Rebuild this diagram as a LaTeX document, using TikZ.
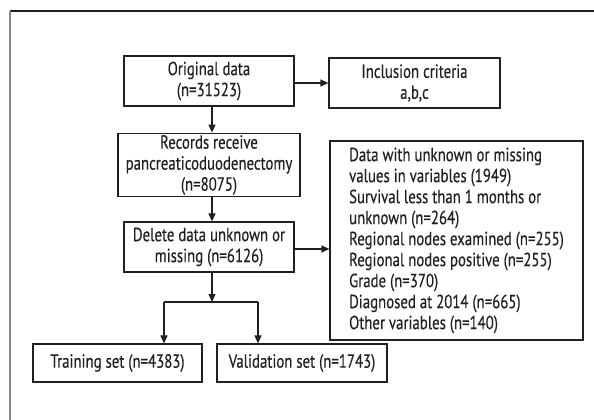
\documentclass[tikz,border=0pt]{standalone}
\usepackage{fontspec}
\setmainfont{PT Sans}[FakeStretch=0.78, FakeBold=0.35]
\usetikzlibrary{arrows.meta}
\definecolor{ink}{HTML}{231F20}
\definecolor{framegray}{HTML}{8A8A8A}
\tikzset{
  box/.style={draw=ink, line width=1.2pt, rectangle, align=center, inner sep=2pt,
    font=\fontsize{19}{21}\selectfont, text=ink},
  arr/.style={draw=ink, line width=1.2pt, -{Triangle[length=8pt,width=7pt]}},
  link/.style={draw=ink, line width=1.2pt},
}
\begin{document}
\begin{tikzpicture}[x=1pt,y=-1pt]
  \useasboundingbox (0,0) rectangle (594,420);
  % page frame: top rule and left rule
  \draw[ink, line width=1.3pt] (10,11) -- (594,11);
  \draw[framegray, line width=1.3pt] (10,11) -- (10,420);

  % boxes
  \node[box, minimum width=170pt, minimum height=50pt] (orig) at (209,81)
    {Original data\\(n=31523)};
  \node[box, minimum width=171pt, minimum height=50pt] (incl) at (414.5,83)
    {Inclusion criteria\\a,b,c};
  \node[box, minimum width=182pt, minimum height=62pt] (rec) at (209,165)
    {Records receive\\pancreaticoduodenectomy\\(n=8075)};
  \node[box, minimum width=170pt, minimum height=50pt] (del) at (209,247)
    {Delete data unknown or\\missing (n=6126)};
  \node[box, minimum width=253pt, minimum height=199pt, align=left] (excl) at (456.5,240.5)
    {Data with unknown or missing\\values in variables (1949)\\Survival less than 1 months or\\unknown (n=264)\\Regional nodes examined (n=255)\\Regional nodes positive (n=255)\\Grade (n=370)\\Diagnosed at 2014 (n=665)\\Other variables (n=140)};
  \node[box, minimum width=169pt, minimum height=38pt] (train) at (117.5,363)
    {Training set (n=4383)};
  \node[box, minimum width=170pt, minimum height=38pt] (val) at (302,363)
    {Validation set (n=1743)};

  % junction points of the split
  \coordinate (split) at (212,302);
  \coordinate (jl) at (164,302);
  \coordinate (jr) at (258,302);

  % connectors
  \draw[arr] (orig.east |- incl.west) -- (incl.west);
  \draw[arr] ([xshift=3pt]orig.south) -- ([xshift=3pt]rec.north);
  \draw[arr] ([xshift=3pt]rec.south) -- ([xshift=3pt]del.north);
  \draw[arr] ([yshift=-2pt]del.east) -- ([yshift=-2pt]del.east -| excl.west);
  \draw[arr] (del.south -| split) -- (split);
  \draw[link] (jl) -- (jr);
  \draw[arr] (jl) -- (jl |- train.north);
  \draw[arr] (jr) -- (jr |- val.north);
\end{tikzpicture}
\end{document}
